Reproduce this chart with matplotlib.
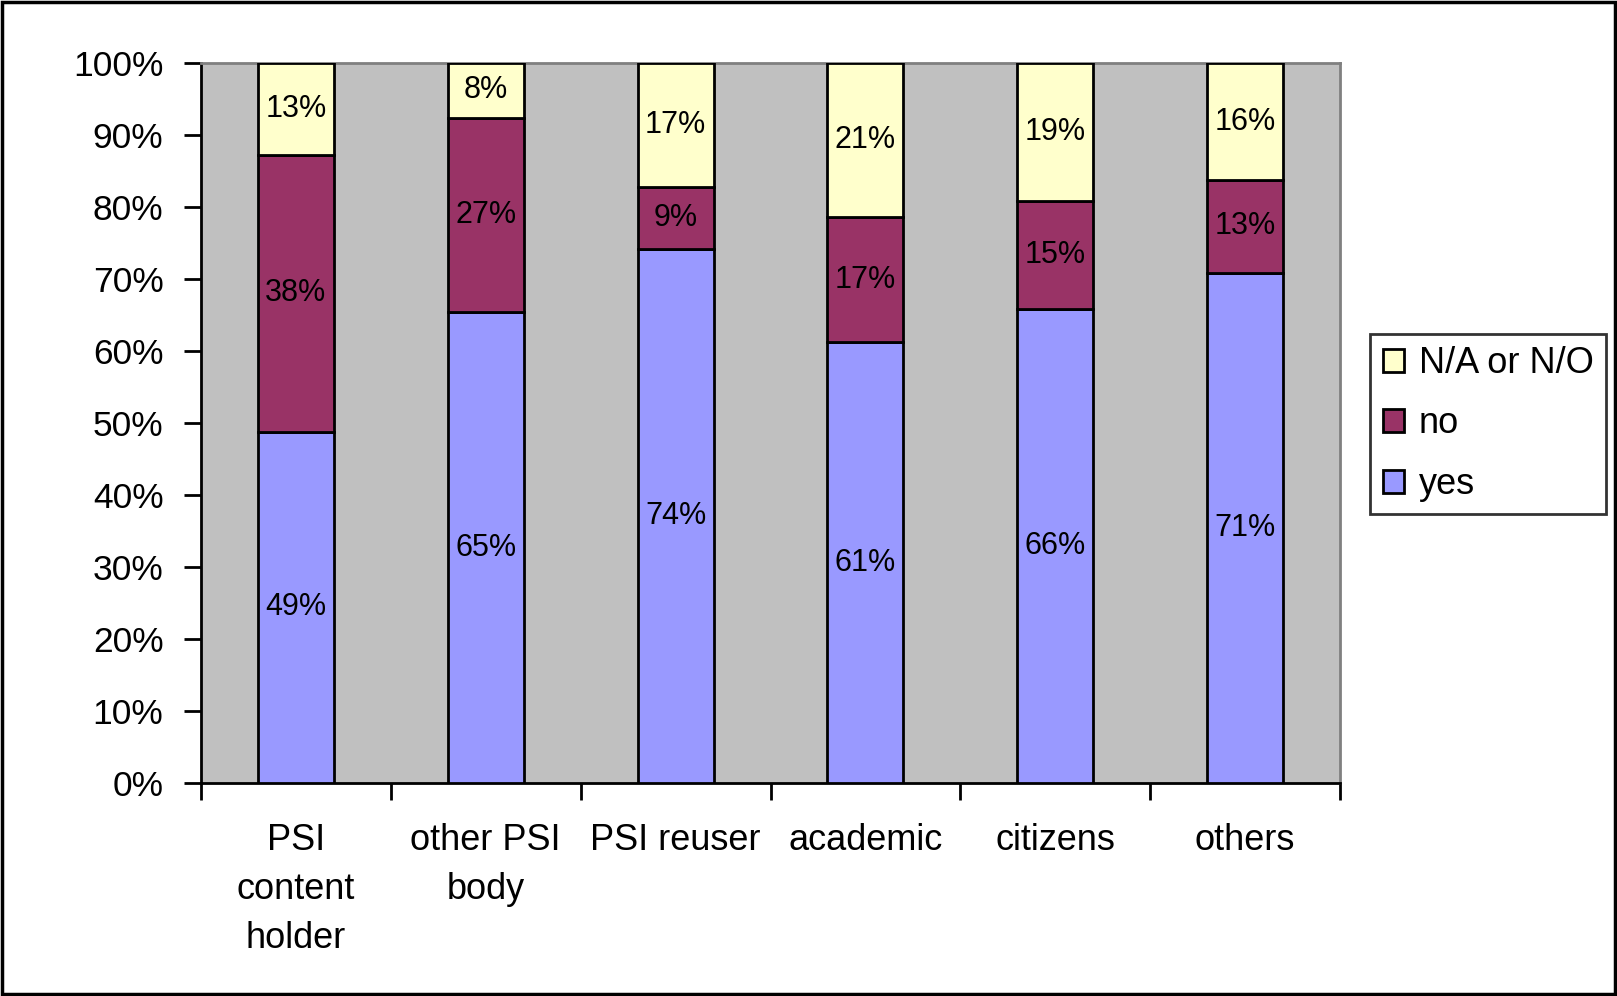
import numpy as np
import matplotlib
matplotlib.use('Agg')
from matplotlib import pyplot as plt
from matplotlib.patches import Rectangle

plt.rcParams['font.family'] = ['Liberation Sans', 'DejaVu Sans']

# Data (percent)
categories = ['PSI\ncontent\nholder', 'other PSI\nbody', 'PSI reuser', 'academic', 'citizens', 'others']
yes = [48.8, 65.4, 74.2, 61.2, 65.9, 70.9]
no = [38.4, 27.0, 8.6, 17.4, 15.0, 12.8]
na = [12.8, 7.6, 17.2, 21.4, 19.1, 16.3]
series_names = ['yes', 'no', 'N/A or N/O']
colors = ['#9999FF', '#993366', '#FFFFCC']

fig = plt.figure(figsize=(16.17, 9.96), dpi=100)
ax = fig.add_axes([0.1243, 0.2139, 0.8287 - 0.1243, 0.9367 - 0.2139])
ax.set_facecolor('#C0C0C0')

x = np.arange(len(categories))
bottom = np.zeros(len(categories))
bars = []
for vals, name, col in zip([yes, no, na], series_names, colors):
    vals = np.array(vals)
    b = ax.bar(x, vals, width=0.4, bottom=bottom, color=col, edgecolor='black',
               linewidth=2, label=name, zorder=3)
    bars.append(b)
    for xi, v, b0 in zip(x, vals, bottom):
        ax.text(xi, b0 + v / 2, f'{round(v)}%', ha='center', va='center',
                fontsize=22, color='black', zorder=4)
    bottom += vals

ax.set_xlim(-0.5, len(categories) - 0.5)
ax.set_ylim(0, 100)
ax.set_yticks(np.arange(0, 101, 10))
ax.set_yticklabels([f'{t}%' for t in range(0, 101, 10)])
ax.tick_params(axis='y', labelsize=25.5, length=12, width=2, pad=15, direction='out')

# category labels centered, ticks at boundaries
ax.set_xticks(np.arange(-0.5, len(categories)), minor=False)
ax.set_xticklabels([''] * (len(categories) + 1))
ax.tick_params(axis='x', length=12, width=2, direction='out')
ax.set_xticks(x, minor=True)
ax.set_xticklabels(categories, minor=True, fontsize=26, linespacing=1.52)
ax.tick_params(axis='x', which='minor', length=0, pad=29)

for s in ['left', 'bottom']:
    ax.spines[s].set_color('black')
    ax.spines[s].set_linewidth(2)
for s in ['top', 'right']:
    ax.spines[s].set_color('#808080')
    ax.spines[s].set_linewidth(2)

handles = [bars[2], bars[1], bars[0]]
labels = ['N/A or N/O', 'no', 'yes']
leg = ax.legend(handles, labels, loc='center left', bbox_to_anchor=(1370 / 1617, 1 - 424 / 996),
                bbox_transform=fig.transFigure, fontsize=26, frameon=True, fancybox=False,
                handlelength=0.6, handleheight=0.6, handletextpad=0.4, labelspacing=0.7,
                borderpad=0.35, borderaxespad=0)
leg.get_frame().set_edgecolor('black')
leg.get_frame().set_linewidth(2)

# outer border
fig.patches.append(Rectangle((0.001, 0.002), 0.998, 0.996, transform=fig.transFigure,
                             fill=False, edgecolor='black', linewidth=2.5))

fig.savefig('out.png', dpi=100, facecolor='white')
